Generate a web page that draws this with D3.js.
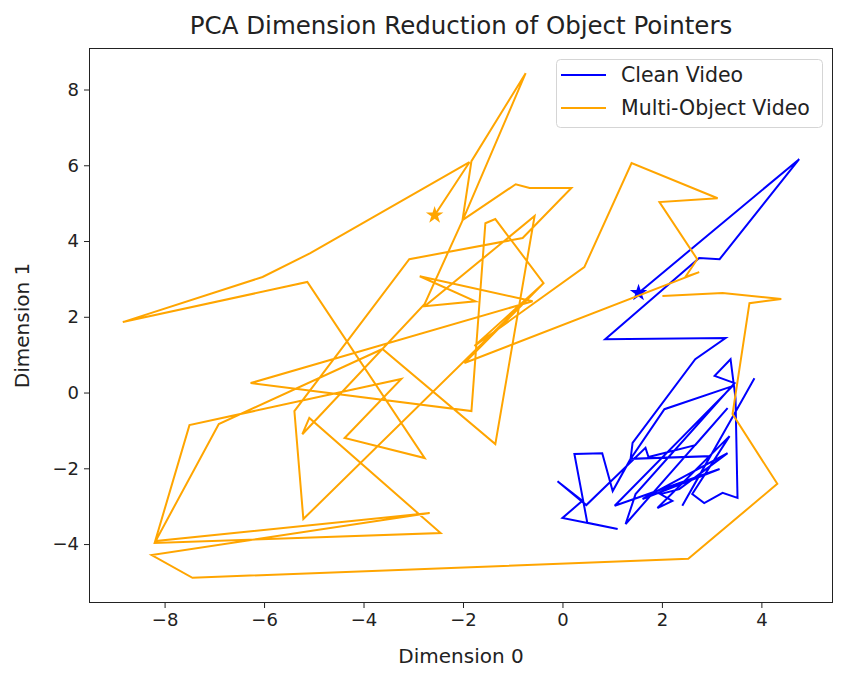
<!DOCTYPE html>
<html>
<head>
<meta charset="utf-8">
<script src="https://cdn.jsdelivr.net/npm/d3@7"></script>
<style>
  body { margin: 0; background: #fff; }
  svg text { font-family: "DejaVu Sans", sans-serif; fill: #222; }
</style>
</head>
<body>
<div id="chart"></div>
<script>
// Clean Video trajectory (PCA dim 0, dim 1), first point marked with a star
var cleanX = [1.53, 4.76, 3.16, 2.75, 0.86, 3.28, 2.67, 1.41, 1.37, 1.01, 0.80, 0.24, 0.50, 1.11, 0.00, 0.40,
              -0.10, 0.48, 1.67, 1.73, 2.67, 3.32, 1.27, 1.47, 3.46, 3.06, 3.38, 3.48, 3.52, 3.22, 2.85, 2.61,
              3.36, 1.91, 2.21, 1.97, 2.35, 3.32, 1.61, 3.16, 1.05, 3.42, 2.05, 1.37, 2.97, 2.41, 3.66, 3.86];
var cleanY = [2.63, 6.16, 3.52, 3.55, 1.41, 1.44, 0.88, -1.33, -1.75, -2.60, -1.60, -1.62, -3.44, -3.60, -3.31, -2.86,
              -2.34, -2.97, -1.46, -1.70, -1.39, -0.41, -3.47, -2.68, 0.25, 0.44, 0.88, -0.15, -2.78, -2.65, -2.92, -2.68,
              -1.15, -3.05, -2.86, -2.68, -2.55, -1.60, -2.81, -2.02, -2.99, 0.17, -0.44, -1.75, -1.68, -2.99, -0.09, 0.38];

// Multi-Object Video trajectory
var multiX = [-2.57, -1.87, -5.07, -6.03, -8.84, -5.13, -2.77, -4.38, -3.24, -7.50, -8.20, -2.45, -5.09, -5.23, -2.77,
              -1.99, -0.74, -1.83, -2.01, -0.94, -0.66, 0.18, -0.80, -3.08, -5.39, -5.21, -0.44, -1.77, 0.44, 1.39,
              3.12, 1.95, 2.71, 2.47, 2.75, -1.97, -0.38, -1.35, -1.55, -1.83, -6.27, -0.60, -2.87, -1.75, -2.77,
              -0.56, -1.35, -3.62, -6.91, -8.18, -2.67, -8.26, -7.44, 2.53, 4.32, 3.42, 3.76, 4.40, 3.22, 2.01];
var multiY = [4.68, 6.08, 3.68, 3.05, 1.86, 2.92, -1.73, -1.20, 0.36, -0.86, -3.97, -3.71, -0.67, -1.10, 2.34,
              4.60, 8.43, 6.11, 4.55, 5.50, 5.40, 5.40, 4.08, 3.52, -0.49, -3.34, 2.81, 1.23, 3.31, 6.06,
              5.13, 5.03, 3.52, 3.05, 3.18, 0.78, 2.89, 4.58, 4.47, -0.49, 0.25, 2.41, 3.07, 2.41, 2.28,
              4.66, -1.36, 1.15, -0.83, -3.92, -3.18, -4.29, -4.89, -4.39, -2.41, -0.57, 2.36, 2.47, 2.63, 2.55];

var seriesNames = ["Clean Video", "Multi-Object Video"];
var seriesColors = ["blue", "orange"];
var xTicks = [-8, -6, -4, -2, 0, 2, 4];
var yTicks = [-4, -2, 0, 2, 4, 6, 8];

var width = 844, height = 675;
var margin = { left: 89, right: 11, top: 48, bottom: 72 };

var svg = d3.select("#chart").append("svg")
	.attr("width", width)
	.attr("height", height);

// matplotlib style 5% margins around the data
var allX = cleanX.concat(multiX), allY = cleanY.concat(multiY);
var xExt = d3.extent(allX), yExt = d3.extent(allY);
var xPad = (xExt[1] - xExt[0]) * 0.05, yPad = (yExt[1] - yExt[0]) * 0.05;

var xScale = d3.scaleLinear()
	.domain([xExt[0] - xPad, xExt[1] + xPad])
	.range([margin.left, width - margin.right]);
var yScale = d3.scaleLinear()
	.domain([yExt[0] - yPad, yExt[1] + yPad])
	.range([height - margin.bottom, margin.top]);

var minus = function(d) { return String(d).replace("-", "\u2212"); };

// X axis
var xAxis = d3.axisBottom(xScale).tickValues(xTicks).tickFormat(minus).tickSize(5).tickPadding(5);
svg.append("g")
	.attr("transform", "translate(0," + (height - margin.bottom) + ")")
	.call(xAxis)
	.call(function(g) { g.select(".domain").remove(); })
	.selectAll("text").style("font-size", "18px").attr("font-family", null);

// Y axis
var yAxis = d3.axisLeft(yScale).tickValues(yTicks).tickFormat(minus).tickSize(5).tickPadding(5);
svg.append("g")
	.attr("transform", "translate(" + margin.left + ",0)")
	.call(yAxis)
	.call(function(g) { g.select(".domain").remove(); })
	.selectAll("text").style("font-size", "18px").attr("font-family", null);

svg.selectAll(".tick line").attr("stroke", "#222").attr("stroke-width", 1);

// Lines
var line = d3.line()
	.x(function(d) { return xScale(d[0]); })
	.y(function(d) { return yScale(d[1]); });

var series = [d3.zip(cleanX, cleanY), d3.zip(multiX, multiY)];

var plot = svg.append("g");
series.forEach(function(pts, i) {
	plot.append("path")
		.datum(pts)
		.attr("d", line)
		.attr("fill", "none")
		.attr("stroke", seriesColors[i])
		.attr("stroke-width", 2)
		.attr("stroke-linejoin", "miter");
	// star on the first point
	plot.append("path")
		.attr("d", d3.symbol().type(d3.symbolStar).size(95)())
		.attr("transform", "translate(" + xScale(pts[0][0]) + "," + yScale(pts[0][1]) + ")")
		.attr("fill", seriesColors[i]);
});

// Frame
svg.append("rect")
	.attr("x", margin.left + 0.5)
	.attr("y", margin.top + 0.5)
	.attr("width", width - margin.left - margin.right - 1)
	.attr("height", height - margin.top - margin.bottom - 1)
	.attr("fill", "none")
	.attr("stroke", "#222")
	.attr("stroke-width", 1);

// Title and axis labels
svg.append("text")
	.attr("x", (margin.left + width - margin.right) / 2)
	.attr("y", 34)
	.attr("text-anchor", "middle")
	.style("font-size", "24.5px")
	.text("PCA Dimension Reduction of Object Pointers");

svg.append("text")
	.attr("x", (margin.left + width - margin.right) / 2)
	.attr("y", 663)
	.attr("text-anchor", "middle")
	.style("font-size", "20px")
	.text("Dimension 0");

svg.append("text")
	.attr("transform", "translate(29," + ((margin.top + height - margin.bottom) / 2) + ") rotate(-90)")
	.attr("text-anchor", "middle")
	.style("font-size", "20px")
	.text("Dimension 1");

// Legend
var legend = svg.append("g").attr("transform", "translate(556,59)");
legend.append("rect")
	.attr("x", 0.5).attr("y", 0.5)
	.attr("width", 266).attr("height", 68)
	.attr("rx", 4)
	.attr("fill", "#fff").attr("fill-opacity", 0.8)
	.attr("stroke", "#d5d5d5");
seriesNames.forEach(function(name, i) {
	var y = 16 + i * 33;
	legend.append("line")
		.attr("x1", 5).attr("x2", 50)
		.attr("y1", y).attr("y2", y)
		.attr("stroke", seriesColors[i])
		.attr("stroke-width", 2);
	legend.append("text")
		.attr("x", 65).attr("y", y)
		.attr("dy", "0.35em")
		.style("font-size", "20.5px")
		.text(name);
});
</script>
</body>
</html>
